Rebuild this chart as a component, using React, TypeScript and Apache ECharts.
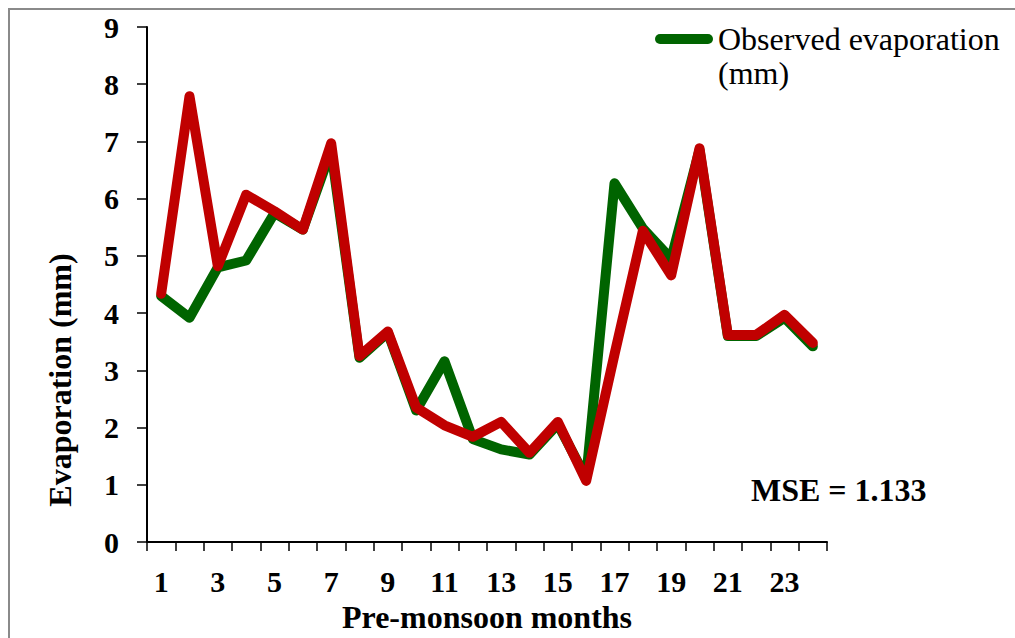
import React, { useEffect, useRef } from "react";
import * as echarts from "echarts";

const months = ["1","2","3","4","5","6","7","8","9","10","11","12","13","14","15","16","17","18","19","20","21","22","23","24"];
const observed = [4.3, 3.92, 4.8, 4.92, 5.75, 5.46, 6.85, 3.22, 3.66, 2.3, 3.16, 1.8, 1.62, 1.53, 2.06, 1.12, 6.27, 5.48, 4.95, 6.85, 3.6, 3.6, 3.92, 3.42];
const predicted = [4.34, 7.79, 4.82, 6.07, 5.78, 5.46, 6.97, 3.25, 3.68, 2.35, 2.04, 1.84, 2.1, 1.56, 2.1, 1.07, 3.28, 5.44, 4.66, 6.88, 3.62, 3.62, 3.97, 3.48];
const yTicks = [0, 1, 2, 3, 4, 5, 6, 7, 8, 9];
const observedName = "Observed evaporation (mm)";
const predictedName = "Predicted evaporation (mm)";
const mseText = "MSE = 1.133";

const FONT = "Liberation Serif";

export default function App() {
  const ref = useRef<HTMLDivElement>(null);
  useEffect(() => {
    if (!ref.current) return;
    const chart = echarts.init(ref.current, null, { renderer: "svg" });
    chart.setOption({
      animation: false,
      backgroundColor: "#ffffff",
      grid: { left: 147, right: 188, top: 27, bottom: 90 },
      legend: {
        data: [observedName],
        left: 655,
        top: -12,
        padding: 0,
        itemWidth: 58,
        itemHeight: 10,
        icon: "path://M5,0 L53,0 A5,5 0 0 1 53,10 L5,10 A5,5 0 0 1 5,0 Z",
        formatter: () => "\nObserved evaporation\n(mm)",
        textStyle: {
          fontFamily: FONT,
          fontSize: 32,
          color: "#000",
          lineHeight: 34,
        },
      },
      xAxis: {
        type: "category",
        data: months,
        boundaryGap: true,
        name: "Pre-monsoon months",
        nameLocation: "middle",
        nameGap: 55,
        nameTextStyle: { fontFamily: FONT, fontSize: 32, fontWeight: "bold", color: "#000" },
        axisLine: { lineStyle: { color: "#000", width: 2 } },
        axisTick: { show: true, interval: 0, length: 9, lineStyle: { color: "#000", width: 1.5 } },
        axisLabel: { interval: 1, margin: 24, fontFamily: FONT, fontSize: 30, fontWeight: "bold", color: "#000" },
        splitLine: { show: false },
      },
      yAxis: {
        type: "value",
        min: yTicks[0],
        max: yTicks[yTicks.length - 1],
        interval: 1,
        axisLine: { show: true, lineStyle: { color: "#000", width: 2 } },
        axisTick: { show: true, length: 10, lineStyle: { color: "#000", width: 1.5 } },
        axisLabel: { margin: 28, fontFamily: FONT, fontSize: 30, fontWeight: "bold", color: "#000" },
        splitLine: { show: false },
      },
      series: [
        {
          name: observedName,
          type: "line",
          data: observed,
          symbol: "none",
          color: "#006400",
          lineStyle: { color: "#006400", width: 10, cap: "round", join: "round" },
          z: 2,
        },
        {
          name: predictedName,
          type: "line",
          data: predicted,
          symbol: "none",
          color: "#C00000",
          lineStyle: { color: "#C00000", width: 10, cap: "round", join: "round" },
          z: 3,
        },
      ],
      graphic: [
        { type: "line", shape: { x1: 9, y1: 8, x2: 9, y2: 638 }, style: { stroke: "#8a8a8a", lineWidth: 2 }, z: 10 },
        { type: "line", shape: { x1: 8, y1: 9, x2: 1015, y2: 9 }, style: { stroke: "#8a8a8a", lineWidth: 2 }, z: 10 },
        {
          type: "text",
          x: 60,
          y: 380,
          rotation: Math.PI / 2,
          style: {
            text: "Evaporation (mm)",
            fontFamily: FONT,
            fontSize: 32,
            fontWeight: "bold",
            fill: "#000",
            align: "center",
            verticalAlign: "middle",
          },
        },
        {
          type: "text",
          x: 751,
          y: 490,
          style: {
            text: mseText,
            fontFamily: FONT,
            fontSize: 32,
            fontWeight: "bold",
            fill: "#000",
            align: "left",
            verticalAlign: "middle",
          },
        },
      ],
    });
    return () => chart.dispose();
  }, []);
  return (
    <div
      ref={ref}
      style={{ position: "absolute", left: 0, top: 0, width: 1015, height: 638 }}
    />
  );
}
